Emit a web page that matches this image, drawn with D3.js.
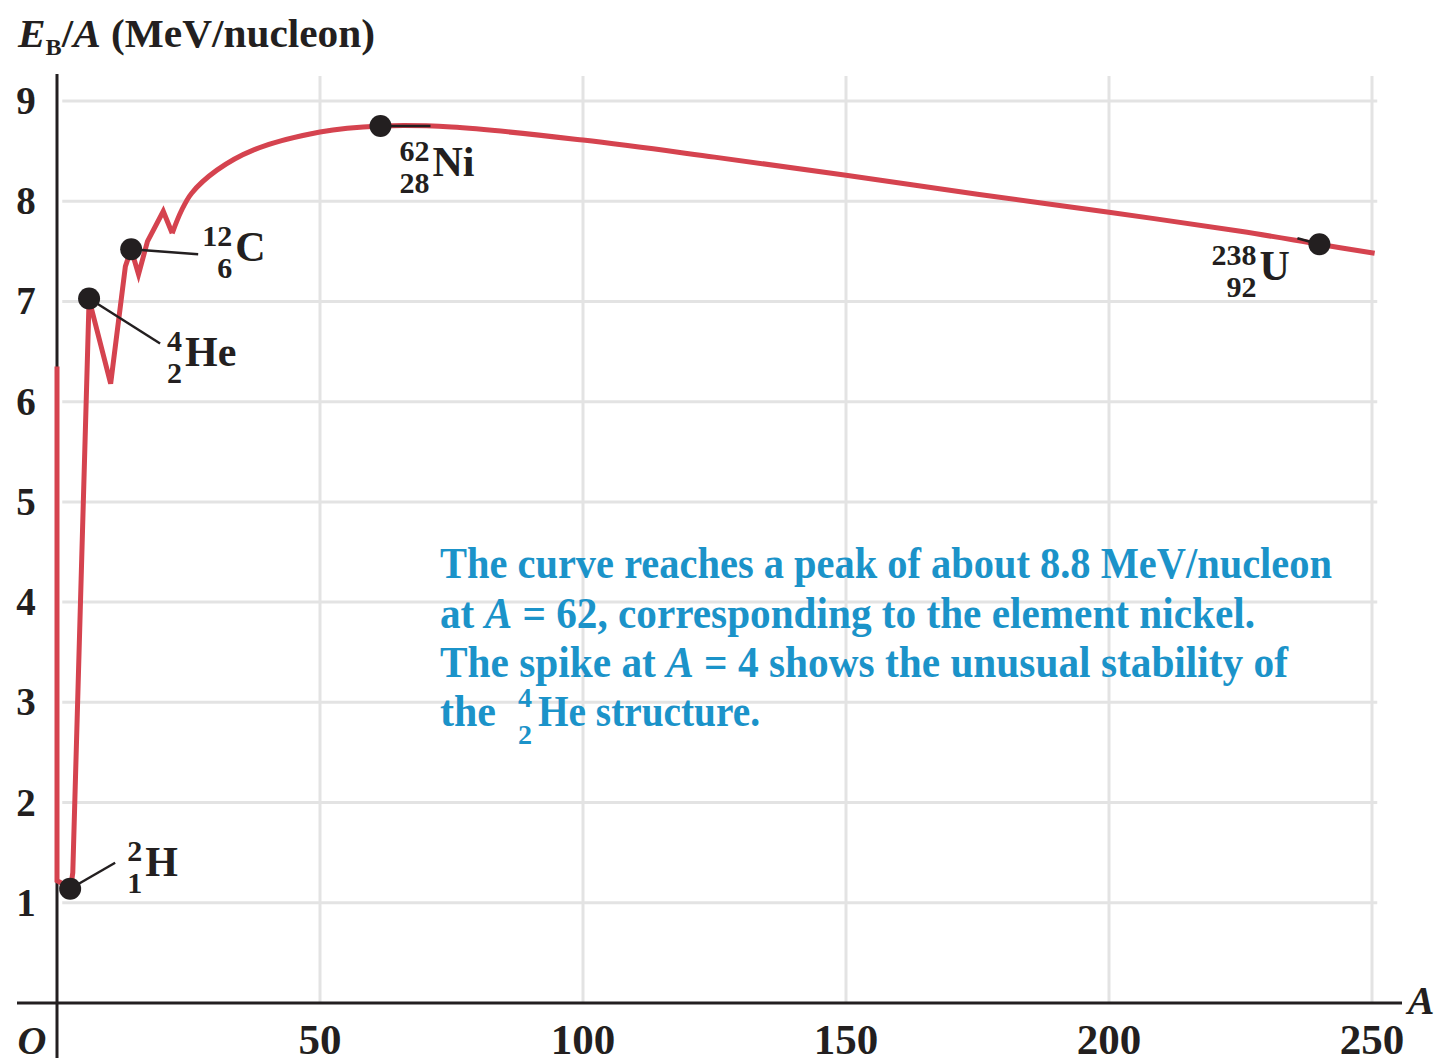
<!DOCTYPE html>
<html>
<head>
<meta charset="utf-8">
<script src="https://cdn.jsdelivr.net/npm/d3@7"></script>
<style>
  body { margin: 0; background: #fff; }
  text { font-family: "Liberation Serif", "DejaVu Serif", serif; font-weight: bold; }
</style>
</head>
<body>
<script>
// binding energy per nucleon curve

const width = 1441;
const height = 1063;

// data (A, E_B/A)
const xTicks = [50, 100, 150, 200, 250];
const yTicks = [1, 2, 3, 4, 5, 6, 7, 8, 9];

// jagged light-nuclei part (straight segments)
const lightCurve = [
  [0, 6.35], [0, 1.22], [2.6, 1.15], [3.0, 1.3], [6.1, 7.02], [10.2, 6.18],
  [13.0, 7.35], [14.1, 7.52], [15.5, 7.27], [17.2, 7.6], [20.2, 7.9], [21.9, 7.68]
];
// smooth part
const heavyCurve = [
  [21.9, 7.68], [23.6, 7.9], [25.6, 8.08], [30.4, 8.31], [37.3, 8.51], [50, 8.69],
  [61.5, 8.75], [75, 8.74], [100, 8.61], [125, 8.44], [150, 8.26], [175, 8.07],
  [200, 7.89], [225, 7.70], [240, 7.57], [250.5, 7.48]
];

const nuclides = [
  { sym: "H",  mass: "2",   z: "1",  A: 2.5,  E: 1.14 },
  { sym: "He", mass: "4",   z: "2",  A: 6.1,  E: 7.03 },
  { sym: "C",  mass: "12",  z: "6",  A: 14.1, E: 7.52 },
  { sym: "Ni", mass: "62",  z: "28", A: 61.5, E: 8.75 },
  { sym: "U",  mass: "238", z: "92", A: 240,  E: 7.57 }
];

const noteLines = [
  ["The curve reaches a peak of about 8.8 MeV/nucleon"],
  ["at ", ["A"], " = 62, corresponding to the element nickel."],
  ["The spike at ", ["A"], " = 4 shows the unusual stability of"]
];

// label placement (pixel offsets from the dot)
const labelLayout = {
  H:  { dx: 75,  dy: -13, lx: 45,  ly: -26 },
  He: { dx: 96,  dy: 68,  lx: 71,  ly: 45 },
  C:  { dx: 104, dy: 12,  lx: 67,  ly: 5 },
  Ni: { dx: 52,  dy: 50,  lx: 50,  ly: 0 },
  U:  { dx: -60, dy: 36,  lx: -22, ly: -6 }
};

const ink = "#231f20";
const red = "#d5434f";
const blue = "#1b93c9";

const svg = d3.select("body").append("svg")
  .attr("width", width)
  .attr("height", height);

const x = d3.scaleLinear().domain([0, 250]).range([57, 1372]);
const y = d3.scaleLinear().domain([0, 9]).range([1003, 101]);

// grid
svg.append("g").selectAll("line")
  .data(yTicks)
  .enter().append("line")
  .attr("x1", x(1)).attr("x2", x(251))
  .attr("y1", d => y(d)).attr("y2", d => y(d))
  .attr("stroke", "#e3e3e3")
  .attr("stroke-width", 3);

svg.append("g").selectAll("line")
  .data(xTicks)
  .enter().append("line")
  .attr("x1", d => x(d)).attr("x2", d => x(d))
  .attr("y1", y(9.25)).attr("y2", y(0))
  .attr("stroke", "#e3e3e3")
  .attr("stroke-width", 3);

// axes
svg.append("line")
  .attr("x1", x(0)).attr("x2", x(0))
  .attr("y1", 74).attr("y2", 1058)
  .attr("stroke", ink).attr("stroke-width", 3);
svg.append("line")
  .attr("x1", 17).attr("x2", 1402)
  .attr("y1", y(0)).attr("y2", y(0))
  .attr("stroke", ink).attr("stroke-width", 3);

// tick labels
svg.append("g").selectAll("text")
  .data(yTicks)
  .enter().append("text")
  .attr("x", 26)
  .attr("y", d => y(d) + 13)
  .attr("text-anchor", "middle")
  .attr("font-size", 39)
  .attr("fill", ink)
  .text(d => d);

svg.append("g").selectAll("text")
  .data(xTicks)
  .enter().append("text")
  .attr("x", d => x(d))
  .attr("y", 1054)
  .attr("text-anchor", "middle")
  .attr("font-size", 43)
  .attr("fill", ink)
  .text(d => d);

svg.append("text")
  .attr("x", 32).attr("y", 1054)
  .attr("text-anchor", "middle")
  .attr("font-size", 40)
  .attr("font-style", "italic")
  .attr("fill", ink)
  .text("O");

svg.append("text")
  .attr("x", 1421).attr("y", 1014)
  .attr("text-anchor", "middle")
  .attr("font-size", 40)
  .attr("font-style", "italic")
  .attr("fill", ink)
  .text("A");

// axis title
const title = svg.append("text")
  .attr("x", 18).attr("y", 47)
  .attr("font-size", 41)
  .attr("fill", ink)
  .attr("textLength", 357)
  .attr("lengthAdjust", "spacingAndGlyphs");
title.append("tspan").attr("font-style", "italic").text("E");
title.append("tspan").attr("font-size", 24).attr("dy", 8).text("B");
title.append("tspan").attr("dy", -8).text("/");
title.append("tspan").attr("font-style", "italic").text("A");
title.append("tspan").text(" (MeV/nucleon)");

// curve
svg.append("path")
  .datum(lightCurve)
  .attr("d", d3.line().x(d => x(d[0])).y(d => y(d[1])))
  .attr("fill", "none")
  .attr("stroke", red)
  .attr("stroke-width", 5)
  .attr("stroke-linejoin", "miter");

svg.append("path")
  .datum(heavyCurve)
  .attr("d", d3.line().x(d => x(d[0])).y(d => y(d[1])).curve(d3.curveCatmullRom))
  .attr("fill", "none")
  .attr("stroke", red)
  .attr("stroke-width", 5);

// leaders, dots and labels
const nuc = svg.append("g").selectAll("g")
  .data(nuclides)
  .enter().append("g")
  .attr("transform", d => `translate(${x(d.A)},${y(d.E)})`);

nuc.append("line")
  .attr("x1", 0).attr("y1", 0)
  .attr("x2", d => labelLayout[d.sym].lx)
  .attr("y2", d => labelLayout[d.sym].ly)
  .attr("stroke", ink)
  .attr("stroke-width", 2.5);

nuc.append("circle")
  .attr("r", 11)
  .attr("fill", ink);

nuc.append("text")
  .attr("x", d => labelLayout[d.sym].dx - 3)
  .attr("y", d => labelLayout[d.sym].dy - 15)
  .attr("text-anchor", "end")
  .attr("font-size", 30)
  .attr("fill", ink)
  .text(d => d.mass);

nuc.append("text")
  .attr("x", d => labelLayout[d.sym].dx - 3)
  .attr("y", d => labelLayout[d.sym].dy + 17)
  .attr("text-anchor", "end")
  .attr("font-size", 30)
  .attr("fill", ink)
  .text(d => d.z);

nuc.append("text")
  .attr("x", d => labelLayout[d.sym].dx)
  .attr("y", d => labelLayout[d.sym].dy)
  .attr("font-size", 42)
  .attr("fill", ink)
  .text(d => d.sym);

// blue note
const noteWidths = [892, 815, 848];
noteLines.forEach((parts, i) => {
  const t = svg.append("text")
    .attr("x", 440)
    .attr("y", 578 + i * 49.5)
    .attr("font-size", 44)
    .attr("fill", blue)
    .attr("textLength", noteWidths[i])
    .attr("lengthAdjust", "spacingAndGlyphs");
  parts.forEach(p => {
    if (Array.isArray(p)) t.append("tspan").attr("font-style", "italic").text(p[0]);
    else t.append("tspan").text(p);
  });
});

svg.append("text")
  .attr("x", 440).attr("y", 726)
  .attr("font-size", 44).attr("fill", blue)
  .attr("textLength", 56).attr("lengthAdjust", "spacingAndGlyphs")
  .text("the");
svg.append("text")
  .attr("x", 525).attr("y", 707)
  .attr("text-anchor", "middle")
  .attr("font-size", 27).attr("fill", blue)
  .attr("textLength", 14).attr("lengthAdjust", "spacingAndGlyphs")
  .text("4");
svg.append("text")
  .attr("x", 525).attr("y", 744)
  .attr("text-anchor", "middle")
  .attr("font-size", 27).attr("fill", blue)
  .attr("textLength", 14).attr("lengthAdjust", "spacingAndGlyphs")
  .text("2");
svg.append("text")
  .attr("x", 538).attr("y", 726)
  .attr("font-size", 44).attr("fill", blue)
  .attr("textLength", 222).attr("lengthAdjust", "spacingAndGlyphs")
  .text("He structure.");
</script>
</body>
</html>
